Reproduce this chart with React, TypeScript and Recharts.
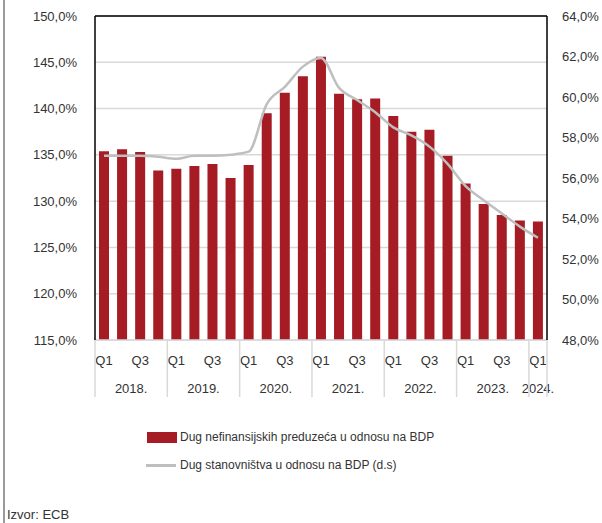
import React from 'react';
import { ComposedChart, Bar, Line, XAxis, YAxis, CartesianGrid, ReferenceLine } from 'recharts';

const years = ['2018.', '2019.', '2020.', '2021.', '2022.', '2023.', '2024.'];
const quartersPerYear = [4, 4, 4, 4, 4, 4, 1];
const quarterLabels = ['Q1', 'Q2', 'Q3', 'Q4'];
const shownQuarters = ['Q1', 'Q3'];

// Dug nefinansijskih preduzeća u odnosu na BDP (%), left axis
const corporateDebt = [
  135.4, 135.6, 135.3, 133.3,
  133.5, 133.8, 134.0, 132.5,
  133.9, 139.5, 141.7, 143.5,
  145.6, 141.6, 141.0, 141.1,
  139.2, 137.5, 137.7, 134.9,
  131.9, 129.7, 128.5, 127.9,
  127.8,
];

// Dug stanovništva u odnosu na BDP (%), right axis
const householdDebt = [
  57.1, 57.1, 57.1, 57.05,
  56.95, 57.1, 57.1, 57.15,
  57.3, 59.65, 60.5, 61.5,
  61.93, 60.45, 59.85, 59.25,
  58.5, 58.1, 57.55, 56.7,
  55.6, 54.9, 54.25, 53.6,
  53.05,
];

const leftTicks = [115, 120, 125, 130, 135, 140, 145, 150];
const rightTicks = [48, 50, 52, 54, 56, 58, 60, 62, 64];
const leftDomain: [number, number] = [115, 150];
const rightDomain: [number, number] = [48, 64];

const corporateName = 'Dug nefinansijskih preduzeća u odnosu na BDP';
const householdName = 'Dug stanovništva u odnosu na BDP (d.s)';
const sourceText = 'Izvor: ECB';

const BAR_COLOR = '#a51c24';
const LINE_COLOR = '#bfbfbf';
const TEXT_COLOR = '#333333';
const SEP_COLOR = '#d9d9d9';
const FONT = "'Liberation Sans', Arial, sans-serif";

type Row = { idx: number; q: string; year: string; groupSize: number; corp: number; hh: number };

const data: Row[] = [];
{
  let k = 0;
  years.forEach((y, yi) => {
    for (let qi = 0; qi < quartersPerYear[yi]; qi++) {
      data.push({ idx: k, q: quarterLabels[qi], year: y, groupSize: quartersPerYear[yi], corp: corporateDebt[k], hh: householdDebt[k] });
      k++;
    }
  });
}
const lastIdx = data.length - 1;

const pct = (v: number) => v.toFixed(1).replace('.', ',') + '%';

const tickStyle = { fontSize: 13, fill: TEXT_COLOR, fontFamily: FONT };
const rightTickStyle = { ...tickStyle, textAnchor: 'start' };
const sepLine = { stroke: SEP_COLOR, strokeWidth: 1.5 };
const frameLine = { stroke: '#000', strokeWidth: 1.5 };
const chartMargin = { top: 16, right: 0, left: 0, bottom: 124 };

function QuarterYearTick(props: any) {
  const { x, y, payload } = props;
  const i = Number(payload?.value);
  const row = data[i];
  if (!row) return null;
  const half = typeof payload?.offset === 'number' && payload.offset > 0 ? payload.offset : 9;
  const isFirst = row.q === 'Q1';
  return (
    <g>
      {shownQuarters.includes(row.q) && (
        <text x={x} y={y + 25} textAnchor="middle" fontSize={13} fontFamily={FONT} fill={TEXT_COLOR}>
          {row.q}
        </text>
      )}
      {isFirst && (
        <text x={x + (row.groupSize - 1) * half} y={y + 53} textAnchor="middle" fontSize={13} fontFamily={FONT} fill={TEXT_COLOR}>
          {row.year}
        </text>
      )}
      {isFirst && <line x1={x - half} x2={x - half} y1={y} y2={y + 57} stroke={SEP_COLOR} strokeWidth={1.5} />}
      {i === lastIdx && <line x1={x + half} x2={x + half} y1={y} y2={y + 57} stroke={SEP_COLOR} strokeWidth={1.5} />}
    </g>
  );
}

export default function App() {
  return (
    <div style={{ position: 'absolute', left: 0, top: 0, width: 602, height: 523, background: '#fff', fontFamily: FONT }}>
      <div style={{ position: 'absolute', left: 3, top: 0, width: 2, height: 523, background: '#9a9a9a' }} />
      <ComposedChart width={602} height={523} data={data} margin={chartMargin}>
        <CartesianGrid xAxisId="q" yAxisId="left" vertical={false} stroke={SEP_COLOR} strokeWidth={1.5} />
        <XAxis
          xAxisId="q"
          dataKey="idx"
          type="category"
          interval={0}
          height={59}
          tickSize={0}
          tickMargin={0}
          axisLine={sepLine}
          tickLine={false}
          tick={<QuarterYearTick />}
        />
        <YAxis
          yAxisId="left"
          orientation="left"
          domain={leftDomain}
          ticks={leftTicks}
          interval={0}
          width={95}
          tickSize={0}
          tickMargin={18}
          tickLine={false}
          axisLine={frameLine}
          tick={tickStyle}
          tickFormatter={pct}
        />
        <YAxis
          yAxisId="right"
          orientation="right"
          domain={rightDomain}
          ticks={rightTicks}
          interval={0}
          width={55}
          tickSize={0}
          tickMargin={15}
          tickLine={false}
          axisLine={frameLine}
          tick={rightTickStyle}
          tickFormatter={pct}
        />
        <ReferenceLine xAxisId="q" yAxisId="left" y={150} stroke="#000" strokeWidth={1.5} />
        <Bar
          xAxisId="q"
          yAxisId="left"
          dataKey="corp"
          name={corporateName}
          fill={BAR_COLOR}
          barSize={10}
          isAnimationActive={false}
        />
        <Line
          xAxisId="q"
          yAxisId="right"
          dataKey="hh"
          name={householdName}
          type="monotone"
          stroke={LINE_COLOR}
          strokeWidth={2.5}
          dot={false}
          activeDot={false}
          isAnimationActive={false}
        />
      </ComposedChart>

      <div style={{ position: 'absolute', left: 147, top: 432, width: 30, height: 11, background: BAR_COLOR }} />
      <div style={{ position: 'absolute', left: 180, top: 428, fontSize: 12, lineHeight: '18px', color: TEXT_COLOR, whiteSpace: 'nowrap' }}>
        {corporateName}
      </div>
      <div style={{ position: 'absolute', left: 146, top: 464, width: 30, height: 2.5, background: LINE_COLOR }} />
      <div style={{ position: 'absolute', left: 180, top: 456, fontSize: 12, lineHeight: '18px', color: TEXT_COLOR, whiteSpace: 'nowrap' }}>
        {householdName}
      </div>
      <div style={{ position: 'absolute', left: 7, top: 507, fontSize: 13, lineHeight: '16px', color: TEXT_COLOR, whiteSpace: 'nowrap' }}>
        {sourceText}
      </div>
    </div>
  );
}
